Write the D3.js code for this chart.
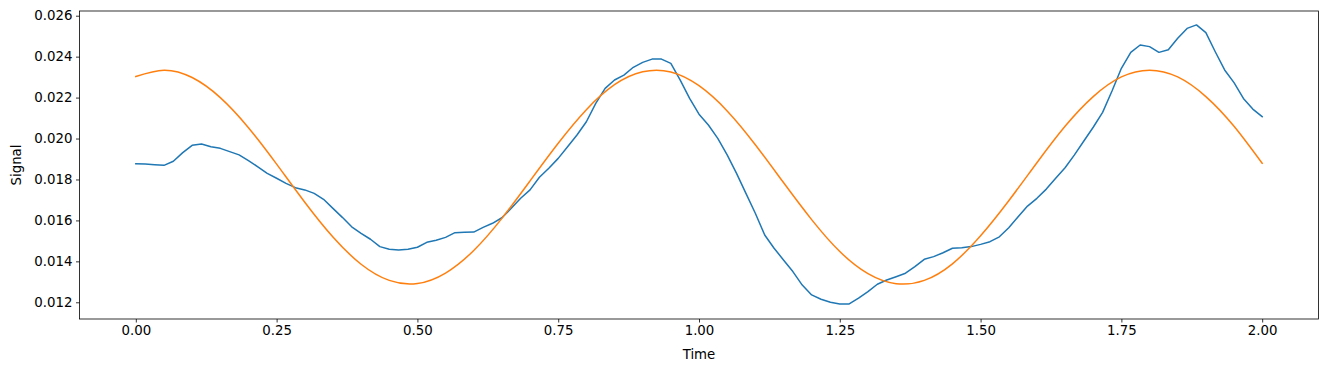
<!DOCTYPE html>
<html>
<head>
<meta charset="utf-8">
<script src="https://cdn.jsdelivr.net/npm/d3@7"></script>
<style>
  body { margin: 0; background: #fff; }
  svg { display: block; font-family: "DejaVu Sans", sans-serif; }
</style>
</head>
<body>
<svg id="chart" width="1329" height="372"></svg>
<script>
// measured signal, sampled every 1/60 s
const measuredTime = d3.range(121).map((i) => i / 60);
const measuredSignal = [
  0.01877, 0.01875, 0.01872, 0.01869, 0.01889, 0.01931, 0.01967, 0.01973, 0.0196, 0.01952,
  0.01936, 0.0192, 0.01892, 0.01862, 0.0183, 0.01806, 0.01781, 0.0176, 0.01749, 0.01732,
  0.01703, 0.01659, 0.01615, 0.01569, 0.01537, 0.01508, 0.01472, 0.01459, 0.01455, 0.01459,
  0.01469, 0.01493, 0.01503, 0.01517, 0.0154, 0.01542, 0.01543, 0.01566, 0.01586, 0.01613,
  0.01659, 0.01708, 0.01749, 0.01811, 0.01855, 0.01903, 0.0196, 0.02017, 0.02082, 0.02172,
  0.02245, 0.02286, 0.0231, 0.02348, 0.02372, 0.02388, 0.02388, 0.02367, 0.02285, 0.02196,
  0.02119, 0.02066, 0.02001, 0.0192, 0.0183, 0.01732, 0.01635, 0.01529, 0.01464, 0.01407,
  0.0135, 0.01284, 0.01236, 0.01215, 0.012, 0.01192, 0.01192, 0.0122, 0.01252, 0.01288,
  0.01309, 0.01325, 0.01342, 0.01374, 0.0141, 0.01423, 0.01442, 0.01464, 0.01466, 0.01472,
  0.01483, 0.01496, 0.0152, 0.01564, 0.01618, 0.0167, 0.01708, 0.01753, 0.01806, 0.01857,
  0.0192, 0.01988, 0.02055, 0.02128, 0.02232, 0.02343, 0.02421, 0.02457, 0.02449, 0.02421,
  0.02434, 0.0249, 0.02538, 0.02555, 0.02517, 0.02424, 0.02335, 0.02273, 0.02196, 0.02144,
  0.02107
];

// fitted curve, read every 0.05 s
const fitTime = d3.range(41).map((i) => i * 0.05);
const fitSignal = [
  0.02303, 0.02334, 0.02298, 0.022, 0.02053, 0.01875, 0.01689, 0.01519, 0.01386, 0.01307,
  0.01292, 0.01343, 0.01453, 0.0161, 0.01793, 0.01977, 0.02141, 0.02263, 0.02326, 0.02325,
  0.02258, 0.02135, 0.0197, 0.01785, 0.01604, 0.01448, 0.0134, 0.01291, 0.01307, 0.01388,
  0.01525, 0.01696, 0.01882, 0.0206, 0.02205, 0.02301, 0.02334, 0.02301, 0.02205, 0.0206,
  0.01879
];

const xTicks = [0, 0.25, 0.5, 0.75, 1, 1.25, 1.5, 1.75, 2];
const yTicks = [0.012, 0.014, 0.016, 0.018, 0.02, 0.022, 0.024, 0.026];

const margin = { top: 11, right: 10.5, bottom: 53, left: 79.5 };
const width = 1329;
const height = 372;

const svg = d3.select("#chart");

const x = d3
  .scaleLinear()
  .domain([-0.1, 2.1])
  .range([margin.left, width - margin.right]);

const y = d3
  .scaleLinear()
  .domain([0.011184, 0.02623])
  .range([height - margin.bottom, margin.top]);

// axes
const xAxis = svg
  .append("g")
  .attr("transform", `translate(0, ${height - margin.bottom})`)
  .call(
    d3.axisBottom(x).tickValues(xTicks).tickSize(3.5).tickPadding(3.5)
      .tickFormat(d3.format(".2f"))
  );

const yAxis = svg
  .append("g")
  .attr("transform", `translate(${margin.left}, 0)`)
  .call(
    d3.axisLeft(y).tickValues(yTicks).tickSize(3.5).tickPadding(3.5)
      .tickFormat(d3.format(".3f"))
  );

[xAxis, yAxis].forEach((g) => {
  g.select(".domain").remove();
  g.selectAll(".tick line").attr("stroke", "#000").attr("stroke-width", 0.8);
  g.selectAll(".tick text")
    .attr("fill", "#000")
    .style("font-size", "13.33px")
    .style("font-family", "DejaVu Sans, sans-serif");
});

// lines
const line = (xs, ys, curve) =>
  d3.line()
    .x((d, i) => x(xs[i]))
    .y((d) => y(d))
    .curve(curve)(ys);

svg
  .append("path")
  .attr("d", line(measuredTime, measuredSignal, d3.curveLinear))
  .attr("fill", "none")
  .attr("stroke", "#1f77b4")
  .attr("stroke-width", 1.5)
  .attr("stroke-linejoin", "round")
  .attr("stroke-linecap", "square");

svg
  .append("path")
  .attr("d", line(fitTime, fitSignal, d3.curveNatural))
  .attr("fill", "none")
  .attr("stroke", "#ff7f0e")
  .attr("stroke-width", 1.5)
  .attr("stroke-linejoin", "round")
  .attr("stroke-linecap", "square");

// frame
svg
  .append("rect")
  .attr("x", margin.left)
  .attr("y", margin.top)
  .attr("width", width - margin.left - margin.right)
  .attr("height", height - margin.top - margin.bottom)
  .attr("fill", "none")
  .attr("stroke", "#000")
  .attr("stroke-width", 0.8);

// axis labels
svg
  .append("text")
  .attr("x", (margin.left + width - margin.right) / 2)
  .attr("y", 359)
  .attr("text-anchor", "middle")
  .style("font-size", "13.33px")
  .text("Time");

svg
  .append("text")
  .attr("transform", `translate(21, ${(margin.top + height - margin.bottom) / 2}) rotate(-90)`)
  .attr("text-anchor", "middle")
  .style("font-size", "13.33px")
  .text("Signal");
</script>
</body>
</html>
